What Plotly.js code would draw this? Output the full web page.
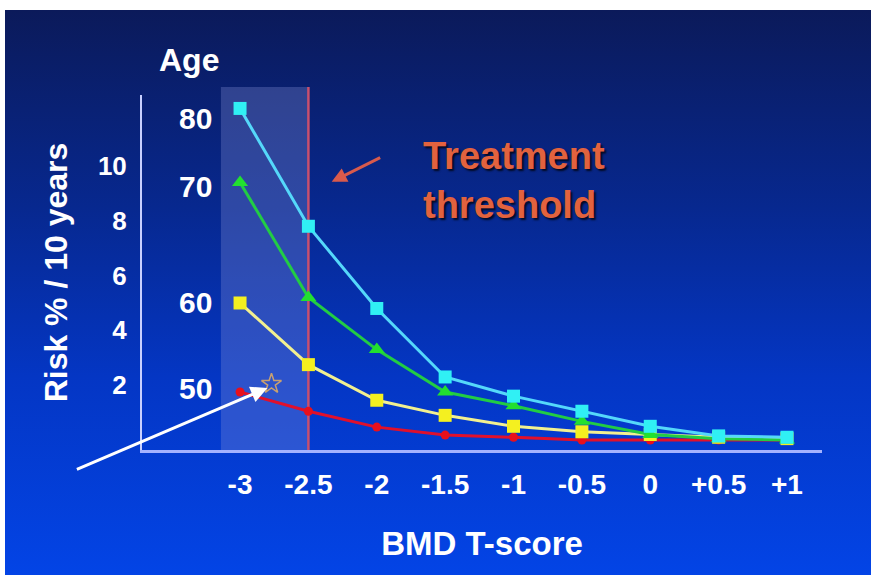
<!DOCTYPE html>
<html>
<head>
<meta charset="utf-8">
<script src="https://cdn.plot.ly/plotly-3.0.1.min.js"></script>
<style>
  html, body { margin: 0; padding: 0; background: #ffffff; }
  #chart {
    width: 871px; height: 575px;
    background: linear-gradient(to bottom, #0b1a5a 0%, #07288f 35%, #0436c4 65%, #0344e6 100%) 5px 10px / 866px 565px no-repeat, #ffffff;
  }
</style>
</head>
<body>
<div id="chart"></div>
<script>
// ---- data ----
const tScores = [-3, -2.5, -2, -1.5, -1, -0.5, 0, 0.5, 1];
const tickLabels = ['-3', '-2.5', '-2', '-1.5', '-1', '-0.5', '0', '+0.5', '+1'];
const ages = ['80', '70', '60', '50'];
const risk80 = [12.1, 7.8, 4.8, 2.3, 1.6, 1.05, 0.5, 0.15, 0.1];
const risk70 = [9.4, 5.2, 3.3, 1.75, 1.25, 0.68, 0.2, 0.05, 0.0];
const risk60 = [5.0, 2.75, 1.45, 0.9, 0.5, 0.3, 0.2, 0.1, 0.05];
const risk50 = [1.75, 1.05, 0.47, 0.18, 0.1, 0.0, 0.0, 0.0, 0.0];
const yTicks = [2, 4, 6, 8, 10];
const threshold = -2.5;
const starX = [-2.77];
const starY = [2.05];

const FONT = 'Liberation Sans, Arial, sans-serif';

const traces = [
  { x: tScores, y: risk50, mode: 'lines+markers', name: '50',
    line: { color: '#e0102c', width: 3 },
    marker: { symbol: 'circle', size: 9, color: '#e8101c' } },
  { x: tScores, y: risk60, mode: 'lines+markers', name: '60',
    line: { color: '#f2f090', width: 3 },
    marker: { symbol: 'square', size: 13, color: '#f4f020' } },
  { x: tScores, y: risk70, mode: 'lines+markers', name: '70',
    line: { color: '#22cc44', width: 3 },
    marker: { symbol: 'triangle-up', size: 14, color: '#22e030' } },
  { x: tScores, y: risk80, mode: 'lines+markers', name: '80',
    line: { color: '#55d8fa', width: 3 },
    marker: { symbol: 'square', size: 13, color: '#30f0f4' } },
  { x: starX, y: starY, mode: 'markers', name: 'star',
    marker: { symbol: 'star-open', size: 15, color: '#c8a070', line: { width: 1.5, color: '#c8a070' } } }
];

const W = 680, H = 355;
function px(xp) { return (xp - 142) / W; }
function py(yp) { return (450 - yp) / H; }

const ageYpx = [118, 186, 302, 388];
const annotations = ages.map((a, i) => ({
  xref: 'paper', yref: 'paper', x: px(195), y: py(ageYpx[i]),
  text: a, showarrow: false, xanchor: 'center', yanchor: 'middle',
  font: { family: FONT, size: 30, color: '#ffffff', weight: 'bold' }
}));
annotations.push({
  xref: 'paper', yref: 'paper', x: px(189), y: py(60), text: 'Age', showarrow: false,
  xanchor: 'center', yanchor: 'middle',
  font: { family: FONT, size: 32, color: '#ffffff', weight: 'bold' }
});
annotations.push({
  xref: 'paper', yref: 'paper', x: px(421), y: py(180),
  text: 'Treatment<br>threshold', showarrow: false, xanchor: 'left', yanchor: 'middle', align: 'left',
  font: { family: FONT, size: 38, color: '#e2623e', weight: 'bold', shadow: '2px 2px 2px rgba(0,0,0,0.75)' }
});
// red arrow pointing to threshold line
annotations.push({
  x: -2.33, y: 9.42, xref: 'x', yref: 'y', text: '', showarrow: true,
  ax: 50, ay: -25, arrowcolor: '#d85a4c', arrowwidth: 3, arrowhead: 2, arrowsize: 1
});
// white arrow to star
annotations.push({
  x: -2.80, y: 1.9, xref: 'x', yref: 'y', text: '', showarrow: true,
  ax: -192, ay: 82, arrowcolor: '#ffffff', arrowwidth: 3, arrowhead: 2, arrowsize: 1.1
});

const layout = {
  width: 871, height: 575,
  paper_bgcolor: 'rgba(0,0,0,0)', plot_bgcolor: 'rgba(0,0,0,0)',
  margin: { l: 142, r: 49, t: 95, b: 125 },
  showlegend: false,
  font: { family: FONT, color: '#ffffff' },
  xaxis: {
    range: [-3.717, 1.256], tickvals: tScores, ticktext: tickLabels,
    showgrid: false, zeroline: false, showline: true, linecolor: '#a4b2ff', linewidth: 3,
    ticks: '', ticklabelstandoff: 7,
    tickfont: { family: FONT, size: 28, color: '#ffffff', weight: 'bold' },
    title: { text: 'BMD T-score', standoff: 34, font: { family: FONT, size: 33, color: '#ffffff', weight: 'bold' } }
  },
  yaxis: {
    range: [-0.365, 12.59], tickvals: yTicks, ticktext: yTicks.map(String),
    showgrid: false, zeroline: false, showline: true, linecolor: '#c8d0ff', linewidth: 2,
    ticks: '', ticklabelstandoff: 8,
    tickfont: { family: FONT, size: 26, color: '#ffffff', weight: 'bold' },
    title: { text: 'Risk % / 10 years', standoff: 21, font: { family: FONT, size: 32, color: '#ffffff', weight: 'bold' } }
  },
  shapes: [
    { type: 'rect', xref: 'x', yref: 'paper', x0: -3.14, x1: threshold, y0: 0, y1: 1.0225,
      fillcolor: 'rgba(140,150,220,0.3)', line: { width: 0 }, layer: 'below' },
    { type: 'line', xref: 'x', yref: 'paper', x0: threshold, x1: threshold, y0: 0, y1: 1.0225,
      line: { color: '#c8506e', width: 2.5 }, layer: 'below' }
  ],
  annotations: annotations
};

Plotly.newPlot('chart', traces, layout, { displayModeBar: false, staticPlot: true });
</script>
</body>
</html>
